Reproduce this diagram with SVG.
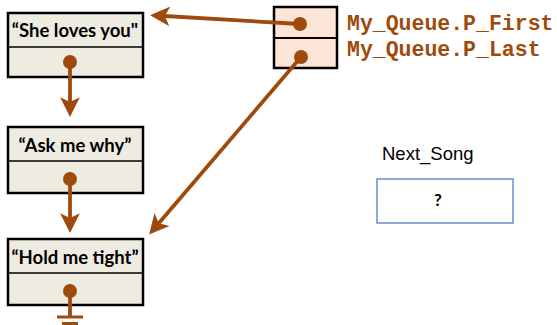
<svg xmlns="http://www.w3.org/2000/svg" width="557" height="325" viewBox="0 0 557 325">
<style>
.node rect{fill:#EEEBE0;stroke:#000;stroke-width:2.5}
.node line{stroke:#000;stroke-width:1.5}
.lbl{font-family:Lato,"Liberation Sans",sans-serif;font-weight:bold;font-size:18.5px;fill:#000;text-anchor:middle}
.ptr rect{fill:#FCE4D6;stroke:#000;stroke-width:2.5}
.ptr line{stroke:#000;stroke-width:2}
.code{font-family:"Liberation Mono",monospace;font-weight:bold;font-size:21.5px;fill:#9E4A0C}
.conn line{stroke:#9E4A0C;stroke-width:3.8;fill:none}
.dot{fill:#9E4A0C}
</style>
<defs>
<marker id="ah" viewBox="0 0 10 10" refX="7" refY="5" markerWidth="5.6" markerHeight="5.2" markerUnits="strokeWidth" orient="auto">
<path d="M0,0 L10,5 L0,10 L2.5,5 z" fill="#9E4A0C"/>
</marker>
</defs>
<g id="node-she" class="node">
<rect x="8" y="13" width="135" height="64"/>
<line x1="8" y1="47" x2="143" y2="47"/>
<text class="lbl" x="75" y="37">“She loves you"</text>
</g>
<g id="node-ask" class="node">
<rect x="8" y="127" width="135" height="66"/>
<line x1="8" y1="161" x2="143" y2="161"/>
<text class="lbl" x="75" y="152">“Ask me why”</text>
</g>
<g id="node-hold" class="node">
<rect x="8" y="239" width="135" height="66"/>
<line x1="8" y1="273" x2="143" y2="273"/>
<text class="lbl" x="75" y="264">“Hold me tight”</text>
</g>
<g id="queue" class="ptr">
<rect x="274" y="7" width="63" height="61"/>
<line x1="274" y1="38" x2="337" y2="38"/>
<text class="code" x="347" y="30">My_Queue.P_First</text>
<text class="code" x="347" y="56">My_Queue.P_Last</text>
</g>
<g id="next-song">
<text x="382" y="160" font-family="Liberation Sans,Arial,sans-serif" font-size="18.5" fill="#000">Next_Song</text>
<rect x="377" y="179" width="136" height="44" fill="#fff" stroke="#4472C4" stroke-width="1.2"/>
<text x="438" y="206" font-family="Lato,Liberation Sans,sans-serif" font-weight="bold" font-size="17" fill="#000" text-anchor="middle">?</text>
</g>
<g id="connectors" class="conn">
<line x1="70" y1="62" x2="70" y2="111" marker-end="url(#ah)"/>
<line x1="70" y1="179" x2="70" y2="227" marker-end="url(#ah)"/>
<line x1="300" y1="24" x2="156" y2="15.5" marker-end="url(#ah)"/>
<line x1="301" y1="57" x2="153" y2="230" marker-end="url(#ah)"/>
<line x1="70" y1="291" x2="70" y2="317"/>
<line x1="57" y1="317" x2="83" y2="317" style="stroke-width:3"/>
<line x1="62" y1="323.5" x2="78" y2="323.5" style="stroke-width:3"/>
<circle class="dot" cx="70" cy="62" r="7"/>
<circle class="dot" cx="70" cy="179" r="7"/>
<circle class="dot" cx="70" cy="291" r="7"/>
<circle class="dot" cx="300" cy="24" r="7"/>
<circle class="dot" cx="301" cy="57" r="7"/>
</g>
</svg>
